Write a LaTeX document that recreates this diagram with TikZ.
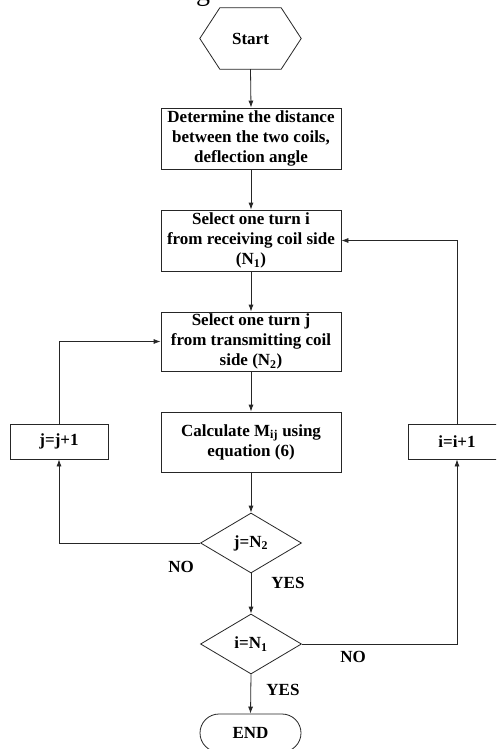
\documentclass[tikz,border=0pt]{standalone}
\usepackage{fontspec}
\setmainfont{Liberation Serif}
\usetikzlibrary{arrows.meta,shapes.geometric,shapes.misc,calc}
\newcommand\flowfont{\fontsize{17}{20}\selectfont\bfseries}
\begin{document}
\begin{tikzpicture}[x=1pt,y=-1pt,
  line/.style={draw=black!85, line width=0.8pt},
  arr/.style={line, -{Latex[length=7pt,width=5pt]}},
  proc/.style={line, rectangle, minimum width=180pt, minimum height=61pt, inner sep=0pt, align=center, font=\flowfont},
  incbox/.style={line, rectangle, minimum width=98pt, minimum height=35pt, inner sep=0pt, font=\flowfont},
  decision/.style={line, diamond, aspect=1.7, minimum width=101pt, minimum height=60pt, inner sep=0pt, font=\flowfont},
  terminal/.style={line, rounded rectangle, minimum width=101pt, minimum height=38pt, inner sep=0pt, font=\flowfont},
  lbl/.style={font=\flowfont, inner sep=0pt}
]
\clip (0,0) rectangle (496,749);
\fill[white] (0,0) rectangle (496,749);

% fragment of caption text above the chart
\node[anchor=base, inner sep=0pt, font=\fontsize{28}{30}\selectfont] (frag) at (203,1) {g};

% start hexagon
\node[minimum width=101pt, minimum height=61pt, inner sep=0pt, font=\flowfont] (start) at (250.5,38.5) {Start};
\draw[line] (start.west) -- ($(start.north west)+(20,0)$) -- ($(start.north east)+(-20,0)$) -- (start.east)
  -- ($(start.south east)+(-20,0)$) -- ($(start.south west)+(20,0)$) -- cycle;

\node[proc] (det) at (251,138.5) {Determine the distance\\between the two coils,\\deflection angle};
\node[proc] (seli) at (251,240.5) {Select one turn i\\from receiving coil side\\(N\textsubscript{1})};
\node[proc, minimum height=59pt] (selj) at (251,341.5) {Select one turn j\\from transmitting coil\\side (N\textsubscript{2})};
\node[proc, minimum height=60pt] (calc) at (251,442) {Calculate M\textsubscript{ij} using\\equation (6)};

\node[incbox] (jinc) at (59,441.5) {j=j+1};
\node[incbox] (iinc) at (457,441.5) {i=i+1};

\node[decision] (dj) at (251,543) {j=N\textsubscript{2}};
\node[decision] (di) at (251,644) {i=N\textsubscript{1}};

\node[terminal] (fin) at (250.5,733) {END};

% main flow
\draw[arr] (start.south) -- (det.north);
\draw[arr] (det.south) -- (seli.north);
\draw[arr] (seli.south) -- (selj.north);
\draw[arr] (selj.south) -- (calc.north);
\draw[arr] (calc.south) -- (dj.north);
\draw[arr] (dj.south) -- (di.north);
\draw[arr] (di.south) -- (fin.north);

% inner loop
\draw[arr] (dj.west) -| (jinc.south);
\draw[arr] (jinc.north) |- (selj.west);

% outer loop
\draw[arr] (di.east) -| (iinc.south);
\draw[arr] (iinc.north) |- (seli.east);

% labels
\node[lbl] (no1) at (181,567) {NO};
\node[lbl] (yes1) at (288,583) {YES};
\node[lbl] (no2) at (353,657) {NO};
\node[lbl] (yes2) at (283,690) {YES};
\end{tikzpicture}
\end{document}
